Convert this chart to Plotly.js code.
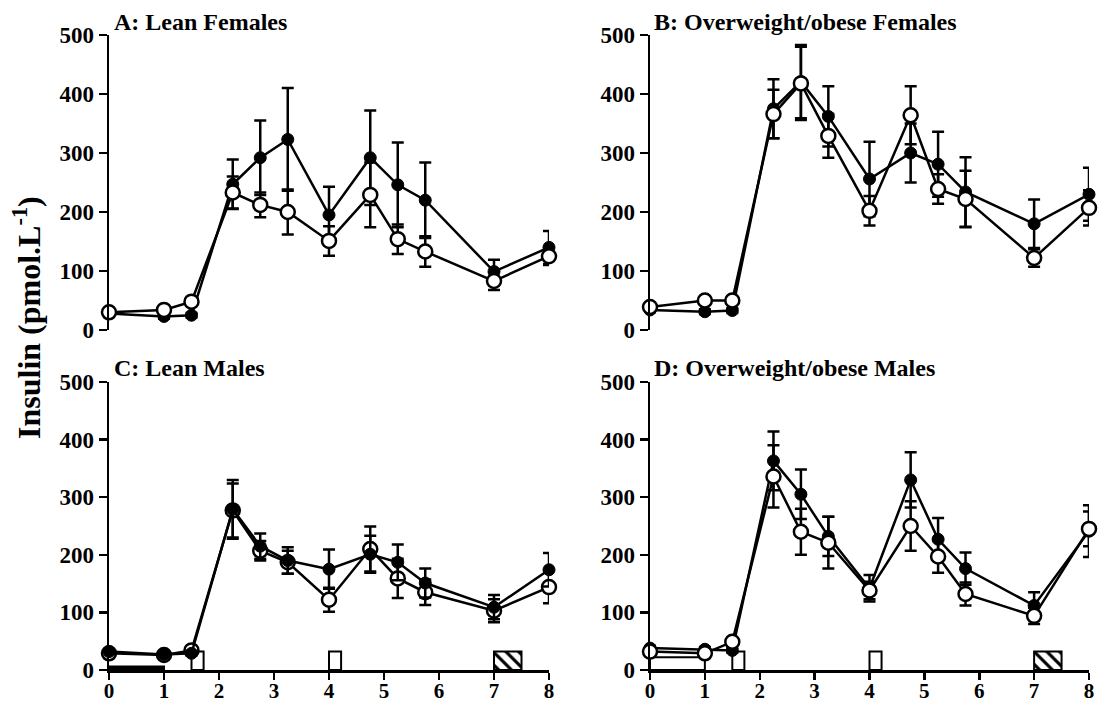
<!DOCTYPE html>
<html>
<head>
<meta charset="utf-8">
<script src="https://cdn.plot.ly/plotly-3.0.1.min.js"></script>
<style>html,body{margin:0;padding:0;background:#fff;}#chart{width:1100px;height:702px;}</style>
</head>
<body>
<div id="chart"></div>
<script>
// Time (h)
const time = [0, 1, 1.5, 2.25, 2.75, 3.25, 4, 4.75, 5.25, 5.75, 7, 8];
const xTicks = [0, 1, 2, 3, 4, 5, 6, 7, 8];
const yTicks = [0, 100, 200, 300, 400, 500];

const panelTitles = ["A: Lean Females", "B: Overweight/obese Females", "C: Lean Males", "D: Overweight/obese Males"];

// Panel A: Lean Females
const aFilled    = [28, 23, 25, 247, 292, 323, 195, 292, 246, 220, 99, 140];
const aFilledErr = [4, 4, 4, 42, 63, 87, 48, 80, 72, 64, 20, 28];
const aOpen      = [30, 34, 48, 233, 212, 200, 151, 229, 154, 133, 83, 125];
const aOpenErr   = [4, 4, 6, 27, 21, 38, 25, 55, 25, 26, 15, 15];

// Panel B: Overweight/obese Females
const bFilled    = [34, 31, 33, 375, 421, 362, 256, 300, 281, 234, 180, 230];
const bFilledErr = [4, 4, 4, 50, 62, 51, 63, 50, 55, 59, 41, 45];
const bOpen      = [39, 50, 50, 366, 418, 329, 202, 364, 239, 222, 122, 207];
const bOpenErr   = [4, 5, 5, 41, 62, 37, 25, 49, 25, 48, 15, 30];

// Panel C: Lean Males
const cFilled    = [32, 27, 29, 279, 215, 190, 175, 201, 187, 151, 109, 174];
const cFilledErr = [4, 4, 4, 51, 22, 23, 34, 32, 31, 25, 21, 29];
const cOpen      = [29, 26, 34, 277, 207, 187, 122, 210, 159, 135, 103, 144];
const cOpenErr   = [3, 3, 4, 47, 17, 20, 21, 39, 34, 22, 20, 28];

// Panel D: Overweight/obese Males
const dFilled    = [38, 36, 34, 363, 305, 232, 142, 330, 227, 176, 112, 241];
const dFilledErr = [4, 4, 4, 51, 43, 34, 23, 48, 37, 28, 23, 45];
const dOpen      = [32, 29, 49, 336, 240, 221, 138, 250, 197, 132, 94, 245];
const dOpenErr   = [4, 4, 5, 54, 40, 45, 15, 43, 28, 20, 14, 30];

// Event boxes drawn on the time axis (bottom panels)
const openBoxStart = [1.5, 4.0];
const openBoxWidth = [0.22, 0.22];
const openBoxHeight = [32, 32];
const hatchBoxStart = [7.0];
const hatchBoxWidth = [0.5];
const hatchBoxHeight = [32];
const baseBoxStart = [0];
const baseBoxWidth = [1];
const cBaseBoxHeight = [6];
const dBaseBoxHeight = [22];

const FONT = "Liberation Serif, Times New Roman, serif";
const panels = [
  {f: aFilled, fe: aFilledErr, o: aOpen, oe: aOpenErr, xa: 'x', ya: 'y', openTop: true},
  {f: bFilled, fe: bFilledErr, o: bOpen, oe: bOpenErr, xa: 'x2', ya: 'y2', openTop: true},
  {f: cFilled, fe: cFilledErr, o: cOpen, oe: cOpenErr, xa: 'x3', ya: 'y3', openTop: false},
  {f: dFilled, fe: dFilledErr, o: dOpen, oe: dOpenErr, xa: 'x4', ya: 'y4', openTop: true}
];

const traces = [];
const centers = (starts, widths) => starts.map((s, i) => s + widths[i] / 2);

// boxes for bottom panels
[{xa: 'x3', ya: 'y3', bh: cBaseBoxHeight, bfill: '#000'}, {xa: 'x4', ya: 'y4', bh: dBaseBoxHeight, bfill: '#fff'}].forEach(p => {
  traces.push({type: 'bar', x: centers(baseBoxStart, baseBoxWidth), y: p.bh, width: baseBoxWidth, base: 0,
    xaxis: p.xa, yaxis: p.ya, marker: {color: p.bfill, line: {color: '#000', width: 2}}, showlegend: false, hoverinfo: 'skip'});
  traces.push({type: 'bar', x: centers(openBoxStart, openBoxWidth), y: openBoxHeight, width: openBoxWidth, base: 0,
    xaxis: p.xa, yaxis: p.ya, marker: {color: '#fff', line: {color: '#000', width: 2}}, showlegend: false, hoverinfo: 'skip'});
  traces.push({type: 'bar', x: centers(hatchBoxStart, hatchBoxWidth), y: hatchBoxHeight, width: hatchBoxWidth, base: 0,
    xaxis: p.xa, yaxis: p.ya,
    marker: {color: '#fff', line: {color: '#000', width: 2},
      pattern: {shape: '\\', fgcolor: '#000', bgcolor: '#fff', size: 9, solidity: 0.35}},
    showlegend: false, hoverinfo: 'skip'});
});

panels.forEach((p, i) => {
  const filled = {type: 'scatter', mode: 'lines+markers', x: time, y: p.f, xaxis: p.xa, yaxis: p.ya,
    name: 'Filled', showlegend: false, cliponaxis: false,
    line: {color: '#000', width: 2.5},
    marker: {symbol: 'circle', size: 12, color: '#000', line: {color: '#000', width: 1}},
    error_y: {type: 'data', array: p.fe, visible: true, color: '#000', thickness: 2.5, width: 6}};
  const open = {type: 'scatter', mode: 'lines+markers', x: time, y: p.o, xaxis: p.xa, yaxis: p.ya,
    name: 'Open', showlegend: false, cliponaxis: false,
    line: {color: '#000', width: 2.5},
    marker: {symbol: 'circle', size: 14, color: '#fff', line: {color: '#000', width: 2.5}},
    error_y: {type: 'data', array: p.oe, visible: true, color: '#000', thickness: 2.5, width: 6}};
  if (p.openTop) { traces.push(filled, open); } else { traces.push(open, filled); }
});

const W = 1100, H = 702;
const xdomL = [109 / W, 549 / W], xdomR = [650 / W, 1089 / W];
const ydomT = [1 - 330 / H, 1 - 35 / H], ydomB = [1 - 670 / H, 1 - 382 / H];

const tickFont = {family: FONT, size: 23, color: '#000', weight: 'bold'};
const xTickFont = {family: FONT, size: 21, color: '#000', weight: 'bold'};
function yax(dom, anchor) {
  return {domain: dom, anchor: anchor, range: [0, 500], tickvals: yTicks, ticktext: yTicks.map(String),
    showline: true, linecolor: '#000', linewidth: 2.5, ticks: 'outside', ticklen: 8, tickwidth: 2.5, tickcolor: '#000',
    ticklabelstandoff: 0, showgrid: false, zeroline: false, tickfont: tickFont, fixedrange: true};
}
function xax(dom, anchor, visible) {
  return {domain: dom, anchor: anchor, range: [0, 8], tickvals: xTicks, ticktext: xTicks.map(String),
    visible: visible, showline: true, linecolor: '#000', linewidth: 2.5, ticks: 'outside', ticklen: 7, tickwidth: 2.5, tickcolor: '#000',
    ticklabelstandoff: -7, showgrid: false, zeroline: false, tickfont: xTickFont, fixedrange: true};
}

const titleFont = {family: FONT, size: 24, color: '#000', weight: 'bold'};
const titlePos = [[112, 22], [652, 22], [112, 368], [652, 368]];
const annotations = panelTitles.map((t, i) => ({
  text: t, xref: 'paper', yref: 'paper', x: titlePos[i][0] / W, y: 1 - titlePos[i][1] / H,
  xanchor: 'left', yanchor: 'middle', showarrow: false, font: titleFont
}));
annotations.push({
  text: 'Insulin (pmol.L<sup>-1</sup>)', xref: 'paper', yref: 'paper', x: 27 / W, y: 1 - 318 / H,
  xanchor: 'center', yanchor: 'middle', textangle: -90, showarrow: false,
  font: {family: FONT, size: 32, color: '#000', weight: 'bold'}
});

const layout = {
  width: W, height: H, margin: {l: 0, r: 0, t: 0, b: 0},
  paper_bgcolor: '#fff', plot_bgcolor: 'rgba(0,0,0,0)',
  showlegend: false, barmode: 'overlay', bargap: 0,
  xaxis: xax(xdomL, 'y', false), yaxis: yax(ydomT, 'x'),
  xaxis2: xax(xdomR, 'y2', false), yaxis2: yax(ydomT, 'x2'),
  xaxis3: xax(xdomL, 'y3', true), yaxis3: yax(ydomB, 'x3'),
  xaxis4: xax(xdomR, 'y4', true), yaxis4: yax(ydomB, 'x4'),
  annotations: annotations
};

Plotly.newPlot('chart', traces, layout, {staticPlot: true});
</script>
</body>
</html>
